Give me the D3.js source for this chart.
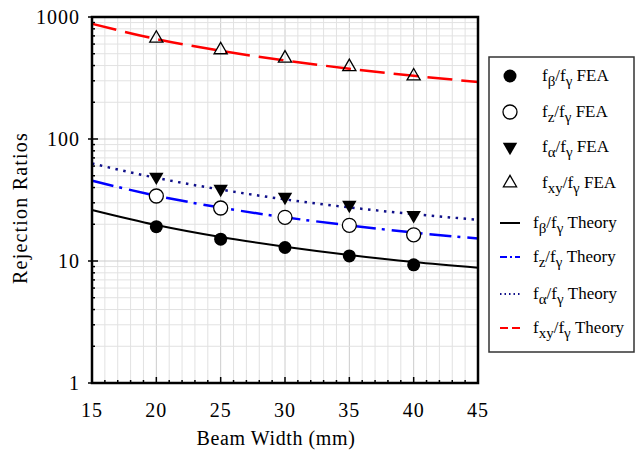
<!DOCTYPE html>
<html>
<head>
<meta charset="utf-8">
<script src="https://cdn.jsdelivr.net/npm/d3@7"></script>
<style>
  body { margin: 0; background: #fff; }
  svg text { font-family: "Liberation Serif", "Times New Roman", serif; }
</style>
</head>
<body>
<div id="chart"></div>
<script>
// FEA points
var feaWidth = [20, 25, 30, 35, 40];
var betaFEA = [19.1, 15.1, 12.9, 11.0, 9.3];
var zFEA = [34.1, 27.2, 22.8, 19.6, 16.4];
var alphaFEA = [49, 39, 33.5, 28.8, 23.8];
var xyFEA = [668, 537, 459, 391, 328];

// theory curves
var theoryWidth = [15, 20, 25, 30, 35, 40, 45];
var betaTheory = [26.2, 19.7, 15.7, 13.1, 11.2, 9.8, 8.8];
var zTheory = [45.5, 34.3, 27.4, 22.8, 19.6, 17.1, 15.3];
var alphaTheory = [63, 48, 38.5, 32, 27.5, 24.2, 21.8];
var xyTheory = [880, 660, 528, 440, 377, 330, 293];

var xTicks = [15, 20, 25, 30, 35, 40, 45];
var yTicks = [1, 10, 100, 1000];

var svg = d3.select("#chart").append("svg")
    .attr("width", 641)
    .attr("height", 453);

// plot box (window.top is read-only, so no "top" here)
var pL = 92, pR = 478, pT = 17, pB = 383;

var x = d3.scaleLinear().domain([15, 45]).range([pL, pR]);
var y = d3.scaleLog().domain([1, 1000]).range([pB, pT]);

// grid
var g = svg.append("g");
d3.range(15, 46).forEach(function(v){
    g.append("line")
        .attr("x1", x(v)).attr("x2", x(v))
        .attr("y1", pT).attr("y2", pB)
        .attr("stroke", v % 5 == 0 ? "#cccccc" : "#e2e2e2")
        .attr("stroke-width", 1);
});
var yMinor = [];
[1, 10, 100].forEach(function(d){
    for (var k = 1; k < 10; k++) yMinor.push(d * k);
});
yMinor.forEach(function(v){
    g.append("line")
        .attr("x1", pL).attr("x2", pR)
        .attr("y1", y(v)).attr("y2", y(v))
        .attr("stroke", yTicks.indexOf(v) >= 0 ? "#cccccc" : "#e2e2e2")
        .attr("stroke-width", 1);
});

// ticks (inward)
d3.range(15, 46).forEach(function(v){
    svg.append("line")
        .attr("x1", x(v)).attr("x2", x(v))
        .attr("y1", pB).attr("y2", pB - (v % 5 == 0 ? 6 : 3))
        .attr("stroke", "#000").attr("stroke-width", 1.5);
});
yMinor.concat([1000]).forEach(function(v){
    var major = yTicks.indexOf(v) >= 0;
    svg.append("line")
        .attr("x1", major ? pL - 4 : pL).attr("x2", pL + (major ? 6 : 3))
        .attr("y1", y(v)).attr("y2", y(v))
        .attr("stroke", "#000").attr("stroke-width", 1.5);
});

// tick labels
svg.selectAll(".xl").data(xTicks).enter().append("text")
    .attr("x", function(d){ return x(d); })
    .attr("y", 417)
    .attr("text-anchor", "middle")
    .attr("font-size", 20)
    .attr("letter-spacing", 1)
    .text(function(d){ return d; });
svg.selectAll(".yl").data(yTicks).enter().append("text")
    .attr("x", 80)
    .attr("y", function(d){ return y(d) + 7; })
    .attr("text-anchor", "end")
    .attr("font-size", 20)
    .attr("letter-spacing", 1)
    .text(function(d){ return d; });

svg.append("text")
    .attr("x", 276).attr("y", 445)
    .attr("text-anchor", "middle")
    .attr("font-size", 20)
    .attr("letter-spacing", 0.6)
    .text("Beam Width (mm)");
svg.append("text")
    .attr("transform", "translate(27,208) rotate(-90)")
    .attr("text-anchor", "middle")
    .attr("font-size", 20)
    .attr("letter-spacing", 1.2)
    .text("Rejection Ratios");

// theory lines
var line = d3.line().curve(d3.curveMonotoneX);
function drawLine(vals, color, width, dash){
    var pts = theoryWidth.map(function(w, i){ return [x(w), y(vals[i])]; });
    svg.append("path")
        .attr("d", line(pts))
        .attr("fill", "none")
        .attr("stroke", color)
        .attr("stroke-width", width)
        .attr("stroke-dasharray", dash);
}
drawLine(betaTheory, "#000", 2, null);
drawLine(zTheory, "#0000ff", 2.5, "22,6,3,7");
drawLine(alphaTheory, "#10108a", 2.5, "2.5,5.5");
drawLine(xyTheory, "#ff0000", 2.5, "25,9");

// FEA markers
var triUp = d3.symbol().type(d3.symbolTriangle).size(75);
var triDown = d3.symbol().type(d3.symbolTriangle).size(90);
function drawMarker(px, py, kind){
    if (kind == "dot") {
        svg.append("circle").attr("cx", px).attr("cy", py).attr("r", 6.5).attr("fill", "#000");
    } else if (kind == "ring") {
        svg.append("circle").attr("cx", px).attr("cy", py).attr("r", 7)
            .attr("fill", "#fff").attr("stroke", "#000").attr("stroke-width", 1.3);
    } else if (kind == "down") {
        svg.append("path").attr("d", triDown)
            .attr("transform", "translate(" + px + "," + py + ") rotate(180)")
            .attr("fill", "#000");
    } else {
        svg.append("path").attr("d", triUp)
            .attr("transform", "translate(" + px + "," + py + ")")
            .attr("fill", "none").attr("stroke", "#000").attr("stroke-width", 1.3);
    }
}
function drawPts(vals, kind){
    feaWidth.forEach(function(w, i){
        drawMarker(x(w), y(vals[i]), kind);
    });
}
drawPts(betaFEA, "dot");
drawPts(zFEA, "ring");
drawPts(alphaFEA, "down");
drawPts(xyFEA, "up");

// frame
svg.append("rect")
    .attr("x", pL).attr("y", pT)
    .attr("width", pR - pL).attr("height", pB - pT)
    .attr("fill", "none").attr("stroke", "#000").attr("stroke-width", 2.5);

// legend
svg.append("rect")
    .attr("x", 489).attr("y", 57).attr("width", 145).attr("height", 295)
    .attr("fill", "#fff").attr("stroke", "#333").attr("stroke-width", 1.5);

var legendItems = [
    {sub: "β", label: " FEA", kind: "dot", y: 76},
    {sub: "z", label: " FEA", kind: "ring", y: 112},
    {sub: "α", label: " FEA", kind: "down", y: 147},
    {sub: "xy", label: " FEA", kind: "up", y: 183},
    {sub: "β", label: " Theory", line: ["#000", null], y: 223},
    {sub: "z", label: " Theory", line: ["#0000ff", "7,3,2,3"], y: 257},
    {sub: "α", label: " Theory", line: ["#10108a", "1.5,3"], y: 294},
    {sub: "xy", label: " Theory", line: ["#ff0000", "8,4"], y: 328}
];
legendItems.forEach(function(d){
    var tx;
    if (d.line) {
        svg.append("line")
            .attr("x1", 500).attr("x2", 520).attr("y1", d.y).attr("y2", d.y)
            .attr("stroke", d.line[0]).attr("stroke-width", 2)
            .attr("stroke-dasharray", d.line[1]);
        tx = 533;
    } else {
        drawMarker(510, d.y, d.kind);
        tx = 542;
    }
    var t = svg.append("text")
        .attr("x", tx).attr("y", d.y + 5)
        .attr("font-size", 17);
    t.append("tspan").text("f");
    t.append("tspan").attr("dy", 5).attr("font-size", 15).text(d.sub);
    t.append("tspan").attr("dy", -5).text("/f");
    t.append("tspan").attr("dy", 5).attr("font-size", 15).text("γ");
    t.append("tspan").attr("dy", -5).text(d.label);
});
</script>
</body>
</html>
